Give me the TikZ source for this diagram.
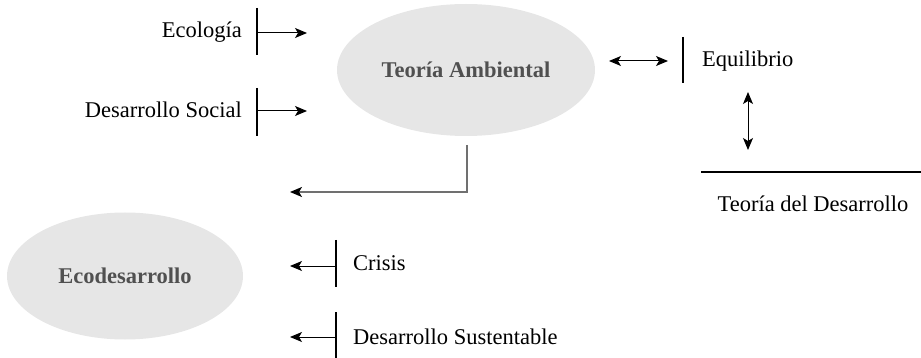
\documentclass[tikz,border=0pt]{standalone}
\usepackage{fontspec}
\setmainfont{Liberation Serif}
\usetikzlibrary{arrows.meta,shapes.geometric}
\definecolor{bubble}{HTML}{E6E6E6}
\definecolor{bubbletext}{HTML}{505050}
\definecolor{elbowgray}{HTML}{707070}
\begin{document}
\begin{tikzpicture}[x=1pt,y=-1pt,
  every node/.style={font=\fontsize{22.5}{27}\selectfont, inner sep=0pt},
  bubblenode/.style={ellipse, fill=bubble, draw=none, text=bubbletext, font=\fontsize{22.5}{27}\selectfont\bfseries},
  label/.style={text=black},
  barline/.style={line width=2.6pt, black},
  flow/.style={line width=1pt, black, -{Stealth[length=12pt,width=10pt,inset=3pt]}},
  bothflow/.style={line width=1pt, black, {Stealth[length=12pt,width=10pt,inset=3pt]}-{Stealth[length=12pt,width=10pt,inset=3pt]}},
  elbow/.style={line width=1.3pt, elbowgray, -{Stealth[length=12pt,width=10pt,inset=3pt,black]}}
]
\useasboundingbox (0,0) rectangle (921,358);

% main bubbles
\node[bubblenode, minimum width=258pt, minimum height=132pt] (ta) at (466,70) {Teoría Ambiental};
\node[bubblenode, minimum width=236pt, minimum height=127pt] (eco) at (125,276) {Ecodesarrollo};

% inputs to the environmental theory
\node[label, anchor=base east] (ecol) at (242,38) {Ecología};
\coordinate (ecolT) at (257,8);
\coordinate (ecolB) at (257,55);
\coordinate (ecolS) at (258,33);
\coordinate (ecolE) at (307,33);
\draw[barline] (ecolT) -- (ecolB);
\draw[flow] (ecolS) -- (ecolE);

\node[label, anchor=base east] (dsoc) at (242,118) {Desarrollo Social};
\coordinate (dsocT) at (257,88);
\coordinate (dsocB) at (257,136);
\coordinate (dsocS) at (258,111);
\coordinate (dsocE) at (307,111);
\draw[barline] (dsocT) -- (dsocB);
\draw[flow] (dsocS) -- (dsocE);

% equilibrium link
\node[label, anchor=base west] (equi) at (702,67) {Equilibrio};
\coordinate (equiT) at (683,37);
\coordinate (equiB) at (683,83);
\coordinate (equiL) at (609,61);
\coordinate (equiR) at (668,61);
\draw[barline] (equiT) -- (equiB);
\draw[bothflow] (equiL) -- (equiR);

% development theory
\coordinate (vtop) at (748,92);
\coordinate (vbot) at (748,150);
\draw[bothflow] (vtop) -- (vbot);
\coordinate (rule1) at (701,172);
\coordinate (rule2) at (921,172);
\draw[line width=2.2pt, black] (rule1) -- (rule2);
\node[label, anchor=base] (tdes) at (813,212) {Teoría del Desarrollo};

% from the environmental theory down to ecodevelopment
\coordinate (elbowS) at (467,145);
\coordinate (elbowE) at (290,192);
\draw[elbow] (elbowS) |- (elbowE);

% inputs to ecodevelopment
\node[label, anchor=base west] (cris) at (353,270) {Crisis};
\coordinate (crisT) at (336,240);
\coordinate (crisB) at (336,287);
\coordinate (crisS) at (335,266);
\coordinate (crisE) at (290,266);
\draw[barline] (crisT) -- (crisB);
\draw[flow] (crisS) -- (crisE);

\node[label, anchor=base west] (dsus) at (353,344) {Desarrollo Sustentable};
\coordinate (dsusT) at (336,312);
\coordinate (dsusB) at (336,358);
\coordinate (dsusS) at (335,337);
\coordinate (dsusE) at (290,337);
\draw[barline] (dsusT) -- (dsusB);
\draw[flow] (dsusS) -- (dsusE);
\end{tikzpicture}
\end{document}
